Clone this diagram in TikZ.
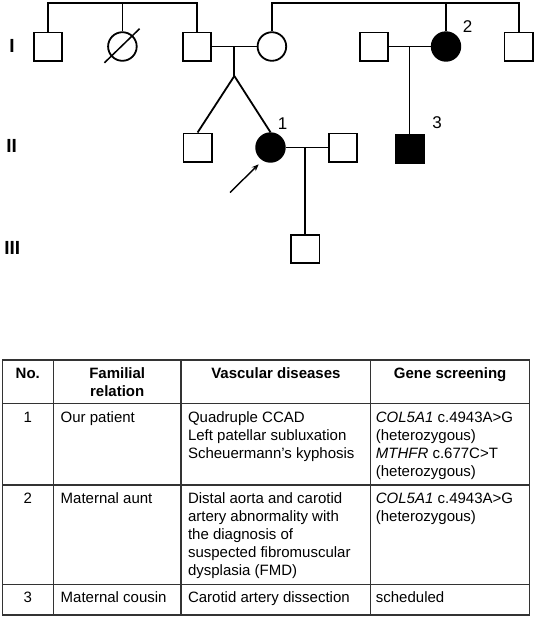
\documentclass[tikz,border=0pt]{standalone}
\usepackage{fontspec}
\setmainfont{Liberation Sans}
\usetikzlibrary{arrows.meta,calc}
\begin{document}
\begin{tikzpicture}[x=1pt,y=-1pt,
  ped/.style={line width=1.8pt},
  male/.style={rectangle,draw,line width=1.8pt,minimum size=28.2pt,inner sep=0pt},
  female/.style={circle,draw,line width=1.8pt,minimum size=28.6pt,inner sep=0pt},
  aff/.style={fill=black},
  num/.style={font=\fontsize{17}{20}\selectfont,inner sep=0pt},
  gen/.style={font=\bfseries\fontsize{19}{22}\selectfont,inner sep=0pt},
  cell/.style={font=\fontsize{15}{18}\selectfont,inner sep=0pt,anchor=base west},
  ccell/.style={font=\fontsize{15}{18}\selectfont,inner sep=0pt,anchor=base},
  hcell/.style={font=\bfseries\fontsize{15}{18}\selectfont,inner sep=0pt,anchor=base},
  grid/.style={line width=1.3pt,draw=black!80}
]
\useasboundingbox (0,0) rectangle (536,619);

% generation labels
\node[gen] (gI) at (12,45.5) {I};
\node[gen] (gII) at (11.7,145.7) {II};
\node[gen] (gIII) at (12.2,248.3) {III};

% generation I
\node[male] (I1) at (48,46.5) {};
\node[female] (I2) at (122.4,46.5) {};
\node[male] (I3) at (197,46.5) {};
\node[female] (I4) at (271.9,46.5) {};
\node[male] (I5) at (373.7,46.5) {};
\node[female,aff] (I6) at (446,46.5) {};
\node[male] (I7) at (518.6,46.5) {};

% generation II
\node[male] (II1) at (197.6,147.5) {};
\node[female,aff] (II2) at (270.5,147.5) {};
\node[male] (II3) at (342.7,147.5) {};
\node[male,aff] (II4) at (409.5,149) {};

% generation III
\node[male] (III1) at (305.3,249.2) {};

% labels
\node[num] (l1) at (282.7,123.7) {1};
\node[num] (l2) at (467.7,26.2) {2};
\node[num] (l3) at (437,123) {3};

% deceased slash
\draw[ped,line width=1.5pt] ($(I2)+(-18,16.3)$) -- ($(I2)+(17.2,-17.8)$);

% sibship lines
\coordinate (sib1) at (122.4,3.2);
\draw[ped] (I1.north) |- (sib1) -| (I3.north);
\draw[ped] (I2.north) -- (I2.north |- sib1);
\coordinate (sib2) at (446,3.2);
\draw[ped] (I4.north) |- (sib2) -| (I7.north);
\draw[ped] (I6.north) -- (I6.north |- sib2);

% marriage I3-I4 with twins
\draw[ped] (I3.east) -- (I4.west);
\coordinate (m1) at ($(I3.east)!0.5!(I4.west)$);
\coordinate (tw) at ($(m1)+(0,29.5)$);
\draw[ped] (m1) -- (tw);
\draw[ped] (tw) -- (II1.north);
\draw[ped] (tw) -- (II2.north);

% marriage I5-I6
\draw[ped] (I5.east) -- (I6.west);
\coordinate (m2) at (409.5,46.5);
\draw[ped] (m2) -- (II4.north);

% marriage II2-II3
\draw[ped] (II2.east) -- (II3.west);
\coordinate (m3) at (305.3,147.5);
\draw[ped] (m3) -- (III1.north);

% proband arrow
\coordinate (arrS) at ($(II2)+(-40.5,45)$);
\coordinate (arrE) at ($(II2)+(-11.8,16.8)$);
\draw[line width=1.4pt,-{Stealth[length=7pt,width=5.5pt]}] (arrS) -- (arrE);

% table grid
\draw[grid] (2.3,360) rectangle (529.5,615);
\draw[grid] (2.3,403.3) -- (529.5,403.3);
\draw[grid] (2.3,485) -- (529.5,485);
\draw[grid] (2.3,584.3) -- (529.5,584.3);
\draw[grid] (53.3,360) -- (53.3,615);
\draw[grid] (181,360) -- (181,615);
\draw[grid] (370.7,360) -- (370.7,615);

% header
\node[hcell] (hNo) at (27.8,378.3) {No.};
\node[hcell] (hFam1) at (117.2,378.3) {Familial};
\node[hcell] (hFam2) at (117.2,396.7) {relation};
\node[hcell] (hVas) at (275.9,378.3) {Vascular diseases};
\node[hcell] (hGen) at (450.1,378.3) {Gene screening};

% row 1
\node[ccell] (n1) at (27.8,422.7) {1};
\node[cell] (r1b) at (60.5,422.7) {Our patient};
\node[cell] (r1c1) at (187.8,422.7) {Quadruple CCAD};
\node[cell] (r1c2) at (187.8,440.7) {Left patellar subluxation};
\node[cell] (r1c3) at (187.8,458.7) {Scheuermann's kyphosis};
\node[cell] (r1d1) at (375.7,422.5) {\textit{COL5A1} c.4943A>G};
\node[cell] (r1d2) at (375.7,440.5) {(heterozygous)};
\node[cell] (r1d3) at (375.7,458.5) {\textit{MTHFR} c.677C>T};
\node[cell] (r1d4) at (375.7,476.5) {(heterozygous)};

% row 2
\node[ccell] (n2) at (27.8,503.3) {2};
\node[cell] (r2b) at (60.5,503.3) {Maternal aunt};
\node[cell] (r2c1) at (187.8,503.3) {Distal aorta and carotid};
\node[cell] (r2c2) at (187.8,521.3) {artery abnormality with};
\node[cell] (r2c3) at (187.8,539.3) {the diagnosis of};
\node[cell] (r2c4) at (187.8,557.3) {suspected fibromuscular};
\node[cell] (r2c5) at (187.8,575.3) {dysplasia (FMD)};
\node[cell] (r2d1) at (375.7,503.3) {\textit{COL5A1} c.4943A>G};
\node[cell] (r2d2) at (375.7,521.3) {(heterozygous)};

% row 3
\node[ccell] (n3) at (27.8,602.7) {3};
\node[cell] (r3b) at (60.5,602.7) {Maternal cousin};
\node[cell] (r3c) at (187.8,602.7) {Carotid artery dissection};
\node[cell] (r3d) at (375.7,602.7) {scheduled};
\end{tikzpicture}
\end{document}
